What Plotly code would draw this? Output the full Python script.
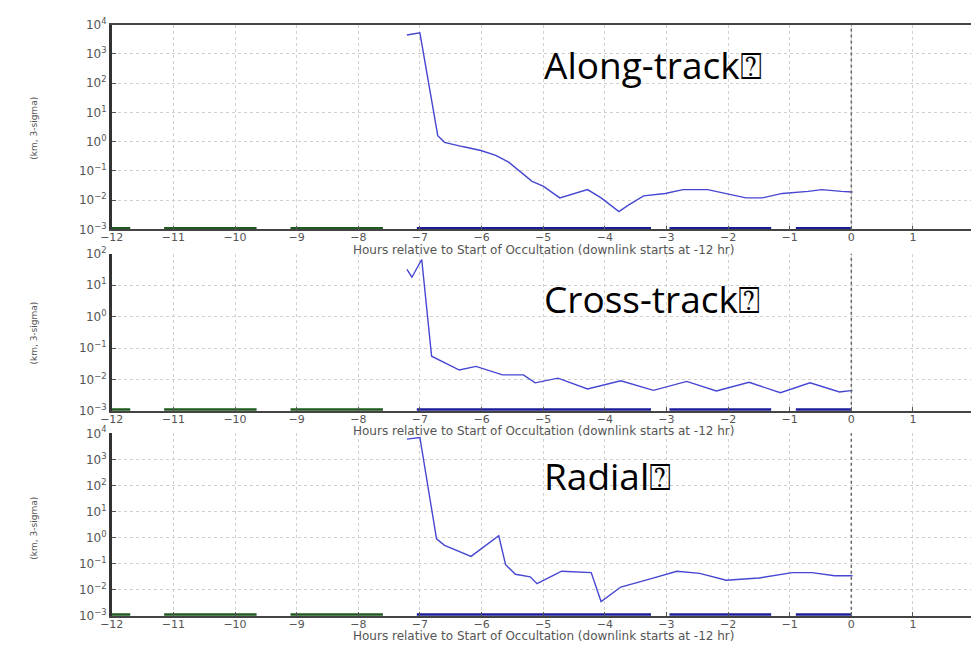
import plotly.graph_objects as go

# ---------------- data ----------------
hours_along = [-7.21, -7.0, -6.71, -6.60, -6.31, -6.01, -5.77, -5.56, -5.18, -5.0, -4.73,
               -4.28, -4.06, -3.77, -3.63, -3.37, -3.02, -2.73, -2.33, -1.98, -1.71,
               -1.44, -1.12, -0.70, -0.48, -0.16, 0.02]
along_track = [4400, 5200, 1.6, 0.95, 0.68, 0.50, 0.34, 0.20, 0.044, 0.030, 0.012,
               0.023, 0.012, 0.0041, 0.0065, 0.014, 0.017, 0.023, 0.023, 0.016, 0.012,
               0.012, 0.017, 0.020, 0.023, 0.020, 0.019]

hours_cross = [-7.21, -7.13, -6.97, -6.81, -6.36, -6.09, -5.66, -5.32, -5.13, -4.76,
               -4.28, -3.74, -3.21, -2.67, -2.19, -1.66, -1.15, -0.67, -0.19, 0.02]
cross_track = [32, 18, 66, 0.055, 0.020, 0.026, 0.014, 0.014, 0.0078, 0.011,
               0.0050, 0.0091, 0.0045, 0.0087, 0.0043, 0.0081, 0.0038, 0.0078, 0.0040, 0.0045]

hours_radial = [-7.21, -7.0, -6.73, -6.60, -6.17, -5.77, -5.72, -5.61, -5.45, -5.21, -5.10,
                -4.70, -4.22, -4.06, -3.74, -3.26, -2.83, -2.46, -2.03, -1.50, -0.96,
                -0.64, -0.27, 0.02]
radial = [6000, 6900, 0.89, 0.50, 0.19, 0.89, 1.17, 0.091, 0.039, 0.031, 0.017,
          0.051, 0.045, 0.0035, 0.0126, 0.026, 0.051, 0.042, 0.023, 0.028, 0.045,
          0.045, 0.034, 0.034]

# tracking passes drawn along the floor of each panel
green_start = [-12.0, -11.15, -9.1]
green_end = [-11.7, -9.65, -7.6]
blue_start = [-7.05, -2.95, -0.9]
blue_end = [-3.25, -1.3, 0.0]
floor_value = 1e-3

x_tickvals = [-12, -11, -10, -9, -8, -7, -6, -5, -4, -3, -2, -1, 0, 1]
x_ticktext = ["\u221212", "\u221211", "\u221210", "\u22129", "\u22128", "\u22127", "\u22126",
              "\u22125", "\u22124", "\u22123", "\u22122", "\u22121", "0", "1"]
y_tickvals = [1e-3, 1e-2, 1e-1, 1e0, 1e1, 1e2, 1e3, 1e4]
y_ticktext = ["10<sup>\u22123</sup>", "10<sup>\u22122</sup>", "10<sup>\u22121</sup>",
              "10<sup>0</sup>", "10<sup>1</sup>", "10<sup>2</sup>", "10<sup>3</sup>",
              "10<sup>4</sup>"]

panel_titles = ["Along-track\u2370", "Cross-track\u2370", "Radial\u2370"]
x_title = "Hours relative to Start of Occultation (downlink starts at -12 hr)"
y_title = "(km, 3-sigma)"

# ---------------- layout geometry ----------------
W, H = 971, 651
def py(p):
    return 1 - p / H

x_left_px = 101
px_per_hour = 62.4
x_max = (W - x_left_px) / px_per_hour - 12

# (top px, bottom px, log max, title y px, ylabel y px, xlabel y px)
panels = [
    (16, 226, 4, 57, 122, 247),
    (251, 412, 2, 297, 332, 433),
    (435, 622, 4, 478, 532, 643),
]
series = [(hours_along, along_track), (hours_cross, cross_track), (hours_radial, radial)]

def segs(starts, ends):
    xs, ys = [], []
    for s, e in zip(starts, ends):
        xs += [s, e, None]
        ys += [floor_value, floor_value, None]
    return xs, ys

gx, gy = segs(green_start, green_end)
bx, by = segs(blue_start, blue_end)

fig = go.Figure()
annotations = []
shapes = []
layout = {}

xtick_font = dict(family="DejaVu Sans", size=11, color="#555555")
ytick_font = dict(family="DejaVu Sans", size=12, color="#555555")

for i, ((top, bot, lmax, ty, yly, xly), (hx, hv)) in enumerate(zip(panels, series)):
    n = "" if i == 0 else str(i + 1)
    xa, ya = "x" + n, "y" + n
    fig.add_trace(go.Scatter(x=gx, y=gy, xaxis=xa, yaxis=ya, mode="lines",
                             line=dict(color="#1f5a1f", width=5), showlegend=False,
                             hoverinfo="skip"))
    fig.add_trace(go.Scatter(x=bx, y=by, xaxis=xa, yaxis=ya, mode="lines",
                             line=dict(color="#1c1c9a", width=5), showlegend=False,
                             hoverinfo="skip"))
    fig.add_trace(go.Scatter(x=hx, y=hv, xaxis=xa, yaxis=ya, mode="lines",
                             line=dict(color="#4646d2", width=1.4), showlegend=False))

    tv = [v for v in y_tickvals if v <= 10 ** lmax + 1]
    tt = y_ticktext[:len(tv)]
    layout["xaxis" + n] = dict(
        domain=[x_left_px / W, 1], range=[-12, x_max], anchor=ya,
        tickvals=x_tickvals, ticktext=x_ticktext, tickfont=xtick_font,
        ticks="inside", ticklen=4, tickcolor="#555555", ticklabelstandoff=-3,
        showgrid=True, gridcolor="#d0d0d0", griddash="dot", gridwidth=1,
        showline=True, linecolor="#444444", linewidth=1.5,
        mirror=(i == 0), zeroline=False, fixedrange=True,
    )
    layout["yaxis" + n] = dict(
        domain=[py(bot), py(top)], type="log", range=[-3, lmax], anchor=xa,
        tickvals=tv, ticktext=tt, tickfont=ytick_font,
        ticks="inside", ticklen=4, tickcolor="#555555",
        showgrid=True, gridcolor="#d0d0d0", griddash="dot", gridwidth=1,
        showline=True, linecolor="#333333", linewidth=2.5,
        zeroline=False, fixedrange=True,
    )
    shapes.append(dict(type="line", xref=xa, yref=ya + " domain", x0=0, x1=0, y0=0, y1=1,
                       line=dict(color="#666666", width=1.5, dash="dot")))
    annotations.append(dict(text=panel_titles[i], xref="paper", yref="paper",
                            x=537 / W, y=py(ty), xanchor="left", yanchor="middle",
                            showarrow=False,
                            font=dict(family="Open Sans", size=37, color="#000000")))
    annotations.append(dict(text=y_title, xref="paper", yref="paper",
                            x=22 / W, y=py(yly), xanchor="center", yanchor="middle",
                            textangle=-90, showarrow=False,
                            font=dict(family="DejaVu Sans", size=9, color="#555555")))
    annotations.append(dict(text=x_title, xref="paper", yref="paper",
                            x=538 / W, y=py(xly), xanchor="center", yanchor="middle",
                            showarrow=False,
                            font=dict(family="DejaVu Sans", size=12, color="#555555")))

fig.update_layout(
    width=W, height=H,
    margin=dict(l=0, r=0, t=0, b=0),
    paper_bgcolor="white", plot_bgcolor="white",
    annotations=annotations, shapes=shapes,
    **layout,
)

fig.write_html("out.html")
